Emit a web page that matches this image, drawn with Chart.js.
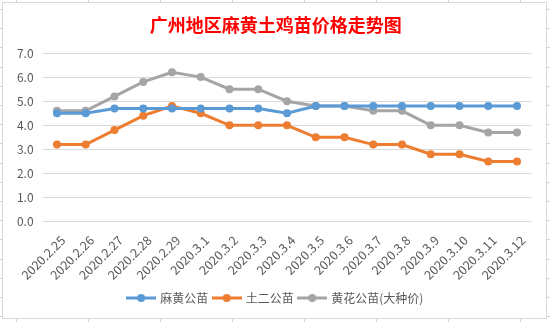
<!DOCTYPE html>
<html>
<head>
<meta charset="utf-8">
<script src="https://cdn.jsdelivr.net/npm/chart.js@4/dist/chart.umd.min.js"></script>
<style>
html,body{margin:0;padding:0;background:#fff;}
#wrap{width:550px;height:322px;position:relative;}
</style>
</head>
<body>
<div id="wrap"><canvas id="c" width="550" height="322"></canvas></div>
<script>
const titleText = '广州地区麻黄土鸡苗价格走势图';
const categories = ['2020.2.25','2020.2.26','2020.2.27','2020.2.28','2020.2.29','2020.3.1','2020.3.2','2020.3.3','2020.3.4','2020.3.5','2020.3.6','2020.3.7','2020.3.8','2020.3.9','2020.3.10','2020.3.11','2020.3.12'];
const seriesNames = ['麻黄公苗','土二公苗','黄花公苗(大种价)'];
const mahuang = [4.5,4.5,4.7,4.7,4.7,4.7,4.7,4.7,4.5,4.8,4.8,4.8,4.8,4.8,4.8,4.8,4.8];
const tuer = [3.2,3.2,3.8,4.4,4.8,4.5,4.0,4.0,4.0,3.5,3.5,3.2,3.2,2.8,2.8,2.5,2.5];
const huanghua = [4.6,4.6,5.2,5.8,6.2,6.0,5.5,5.5,5.0,4.8,4.8,4.6,4.6,4.0,4.0,3.7,3.7];
const yTicks = [0,1,2,3,4,5,6,7];
const colors = ['#5B9BD5','#ED7D31','#A5A5A5'];

function legendImg(color){
  const cv = document.createElement('canvas');
  cv.width = 30; cv.height = 10;
  const g = cv.getContext('2d');
  g.strokeStyle = color; g.lineWidth = 3;
  g.beginPath(); g.moveTo(0,5); g.lineTo(30,5); g.stroke();
  g.fillStyle = color;
  g.beginPath(); g.arc(15,5,4,0,Math.PI*2); g.fill();
  return cv;
}
const legendImgs = colors.map(legendImg);

const frame = {
  id:'frame',
  afterLayout(chart){
    const shift = 10;
    [chart.titleBlock, chart.legend].forEach(b=>{ if (b) { b.left += shift; b.right += shift; } });
  },
  beforeDraw(chart){
    const ctx = chart.ctx;
    ctx.save();
    ctx.fillStyle = '#fff';
    ctx.fillRect(0,0,550,322);
    ctx.strokeStyle = '#D4D4D4';
    ctx.lineWidth = 1;
    ctx.beginPath();
    for (let x = 16; x < 550; x += 72) { ctx.moveTo(x+0.5,0); ctx.lineTo(x+0.5,2); ctx.moveTo(x+0.5,319); ctx.lineTo(x+0.5,322); }
    for (let y = 9; y < 322; y += 19.2) { const yy = Math.round(y)+0.5; ctx.moveTo(0,yy); ctx.lineTo(2,yy); ctx.moveTo(547,yy); ctx.lineTo(550,yy); }
    ctx.stroke();
    ctx.strokeStyle = '#D9D9D9';
    ctx.strokeRect(2.5,2.5,544,316);
    ctx.restore();
  }
};

const fontFam = "'Noto Sans CJK SC','Noto Sans',sans-serif";
new Chart(document.getElementById('c'), {
  type:'line',
  data:{
    labels: categories,
    datasets:[
      {label:seriesNames[0], data:mahuang, borderColor:colors[0], backgroundColor:colors[0]},
      {label:seriesNames[1], data:tuer, borderColor:colors[1], backgroundColor:colors[1]},
      {label:seriesNames[2], data:huanghua, borderColor:colors[2], backgroundColor:colors[2]}
    ].map(d=>Object.assign(d,{borderWidth:3,pointRadius:4,pointHoverRadius:4,pointBorderWidth:0,tension:0,fill:false}))
  },
  options:{
    responsive:false,
    animation:false,
    layout:{padding:{left:0,right:18.6,top:0,bottom:8}},
    plugins:{
      title:{display:true,text:titleText,color:'#FF0000',font:{family:fontFam,size:18,weight:'bold'},padding:{top:14,bottom:17.4}},
      legend:{
        position:'bottom',
        labels:{
          usePointStyle:true, pointStyleWidth:26, padding:5.5,
          color:'#595959', font:{family:fontFam,size:12},
          generateLabels(chart){
            const items = Chart.defaults.plugins.legend.labels.generateLabels(chart);
            items.forEach((it,i)=>{ it.pointStyle = legendImgs[i]; });
            return items;
          }
        }
      },
      tooltip:{enabled:false}
    },
    scales:{
      x:{
        offset:true,
        afterFit(s){ s.height = 64.8; },
        grid:{display:false,drawTicks:false},
        border:{display:false},
        ticks:{color:'#595959',font:{family:fontFam,size:12.5},maxRotation:45,minRotation:45,autoSkip:false,padding:11,labelOffset:6}
      },
      y:{
        min:0,max:7,
        afterFit(s){ s.width = 42.6; },
        afterBuildTicks(s){ s.ticks = yTicks.map(v=>({value:v})); },
        grid:{color:'#D9D9D9',lineWidth:1,drawTicks:false},
        border:{display:false},
        ticks:{color:'#595959',font:{family:fontFam,size:12},padding:9,callback:v=>Number(v).toFixed(1)}
      }
    }
  },
  plugins:[frame]
});
</script>
</body>
</html>
